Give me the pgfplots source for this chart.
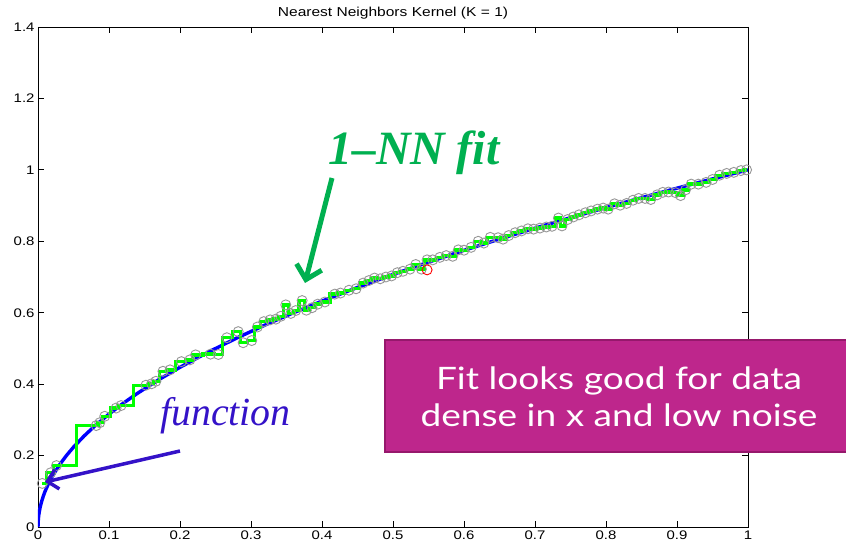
\documentclass[border=0pt]{standalone}
\usepackage{fontspec}
\setmainfont{Liberation Sans}
\newfontfamily\mfont{Liberation Sans}[FakeStretch=1.2]
\newfontfamily\annfont{Liberation Serif}
\newfontfamily\boxfont{Lato}[FakeStretch=1.2]
\usepackage{pgfplots}
\usepackage{pgfplotstable}
\pgfplotsset{compat=1.18}
\usetikzlibrary{arrows.meta}
\definecolor{boxfill}{RGB}{190,38,140}
\definecolor{boxborder}{RGB}{150,24,108}
\definecolor{nngreen}{RGB}{0,176,80}
\definecolor{fncolor}{RGB}{52,18,200}
\definecolor{ptgray}{RGB}{150,150,150}

\pgfplotstableread{
x y
0.006 0.122
0.018 0.152
0.026 0.172
0.082 0.284
0.087 0.292
0.094 0.310
0.110 0.333
0.117 0.340
0.152 0.397
0.160 0.401
0.166 0.408
0.176 0.436
0.186 0.440
0.202 0.463
0.214 0.468
0.222 0.482
0.243 0.484
0.254 0.483
0.266 0.530
0.282 0.547
0.289 0.516
0.301 0.522
0.309 0.560
0.318 0.575
0.327 0.580
0.335 0.582
0.342 0.590
0.349 0.622
0.356 0.598
0.363 0.606
0.372 0.634
0.378 0.607
0.386 0.614
0.394 0.624
0.404 0.630
0.418 0.652
0.426 0.655
0.438 0.663
0.448 0.667
0.458 0.683
0.466 0.690
0.474 0.697
0.482 0.695
0.490 0.700
0.498 0.703
0.506 0.712
0.514 0.716
0.524 0.722
0.532 0.735
0.540 0.722
0.548 0.748
0.556 0.748
0.566 0.755
0.575 0.760
0.584 0.758
0.592 0.776
0.600 0.775
0.610 0.783
0.620 0.800
0.628 0.795
0.637 0.811
0.648 0.810
0.655 0.806
0.663 0.816
0.672 0.824
0.681 0.829
0.690 0.835
0.698 0.834
0.707 0.837
0.716 0.840
0.724 0.842
0.733 0.865
0.738 0.843
0.746 0.861
0.754 0.868
0.762 0.874
0.771 0.880
0.779 0.885
0.788 0.890
0.796 0.893
0.803 0.890
0.812 0.905
0.820 0.901
0.829 0.906
0.838 0.915
0.846 0.920
0.855 0.920
0.863 0.917
0.872 0.930
0.880 0.937
0.888 0.938
0.898 0.936
0.905 0.928
0.912 0.944
0.920 0.960
0.930 0.960
0.941 0.965
0.950 0.973
0.960 0.985
0.970 0.990
0.980 0.993
0.990 0.998
0.998 1.000
}\datatable

\begin{document}
\begin{tikzpicture}
\begin{axis}[
  at={(0,0)}, anchor=south west,
  scale only axis, width=710bp, height=500bp,
  xmin=0, xmax=1, ymin=0, ymax=1.4,
  xtick={0,0.1,0.2,0.3,0.4,0.5,0.6,0.7,0.8,0.9,1},
  ytick={0,0.2,0.4,0.6,0.8,1,1.2,1.4},
  tick align=inside, tick pos=both,
  xticklabel pos=lower, yticklabel pos=left,
  major tick length=6bp,
  axis line style={line width=0.8bp},
  tick style={line width=0.8bp, black},
  /pgf/number format/assume math mode=true,
  tick label style={font=\mfont\fontsize{12.5}{14}\selectfont},
  title={Nearest Neighbors Kernel (K = 1)},
  title style={font=\mfont\fontsize{13}{15}\selectfont, yshift=-2bp},
  clip=true,
]
\addplot[only marks, mark=o, mark size=5bp, mark options={draw=ptgray, line width=0.9bp}] table {\datatable};
\addplot[blue, line width=3.4bp, line join=round] coordinates {
(0,0) (0.0005,0.0224) (0.001,0.0316) (0.002,0.0447) (0.003,0.0548) (0.005,0.0707)
(0.0075,0.0866) (0.01,0.1) (0.015,0.1225) (0.02,0.1414) (0.03,0.1732) (0.04,0.2)
(0.05,0.2236) (0.065,0.2550) (0.08,0.2828) (0.1,0.3162) (0.12,0.3464) (0.14,0.3742)
(0.17,0.4123) (0.2,0.4472) (0.24,0.4899) (0.28,0.5292) (0.32,0.5657) (0.36,0.6)
(0.4,0.6325) (0.45,0.6708) (0.5,0.7071) (0.55,0.7416) (0.6,0.7746) (0.65,0.8062)
(0.7,0.8367) (0.75,0.8660) (0.8,0.8944) (0.85,0.9220) (0.9,0.9487) (0.95,0.9747) (1,1)};
\addplot[green, line width=3.4bp, const plot mark mid, line join=miter] table {\datatable};
\addplot[only marks, mark=o, mark size=5bp, mark options={draw=red, line width=0.9bp}] coordinates {(0.548,0.720)};
\end{axis}

\draw[nngreen, line width=5bp, -{Straight Barb[length=13bp, width=26bp]}] (294bp,349bp) -- (267bp,244bp);
\draw[fncolor, line width=3.5bp, -{Straight Barb[length=10bp, width=20bp]}] (142bp,76bp) -- (7bp,45bp);
\node[anchor=base west, inner sep=0, text=nngreen, font=\annfont\bfseries\itshape\fontsize{48}{50}\selectfont] at (290bp,362bp) {1–NN fit};
\node[anchor=base west, inner sep=0, text=fncolor, font=\annfont\itshape\fontsize{40}{42}\selectfont] at (122bp,101bp) {function};

\fill[boxfill] (347bp,75bp) rectangle (808bp,187bp);
\draw[boxborder, line width=2.5bp] (810bp,187bp) -- (347bp,187bp) -- (347bp,75bp) -- (810bp,75bp);
\node[anchor=base, inner sep=0, text=white, font=\boxfont\fontsize{31}{33}\selectfont] at (581bp,137bp) {Fit looks good for data};
\node[anchor=base, inner sep=0, text=white, font=\boxfont\fontsize{31}{33}\selectfont] at (581bp,100bp) {dense in x and low noise};

\pgfresetboundingbox
\path (-38bp,-20bp) rectangle (808bp,527bp);
\end{tikzpicture}
\end{document}
